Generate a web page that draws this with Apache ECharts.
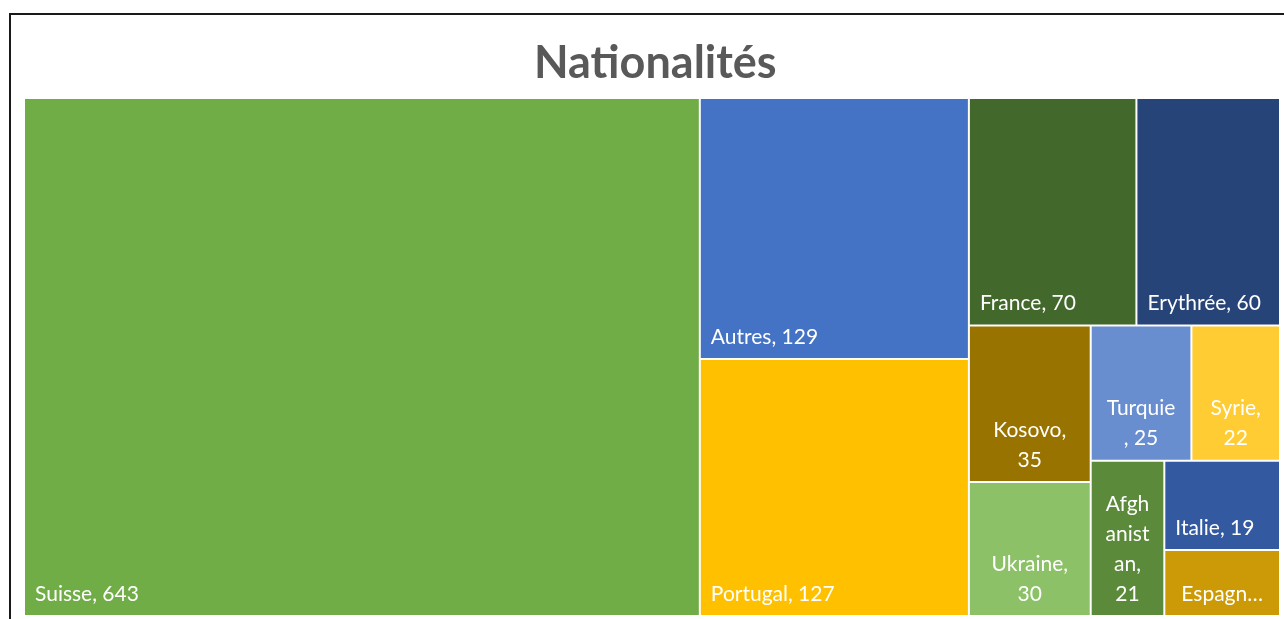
<!DOCTYPE html>
<html>
<head>
<meta charset="utf-8">
<script src="https://cdn.jsdelivr.net/npm/echarts@6/dist/echarts.min.js"></script>
<style>
  html, body { margin: 0; padding: 0; background: #fff; }
  #chart { width: 1284px; height: 619px; }
</style>
</head>
<body>
<div id="chart"></div>
<script>
// données du treemap
const countries = ['Suisse', 'Autres', 'Portugal', 'France', 'Erythrée', 'Kosovo', 'Ukraine', 'Turquie', 'Syrie', 'Afghanistan', 'Italie', 'Espagne']
const counts = [643, 129, 127, 70, 60, 35, 30, 25, 22, 21, 19, 14]
const colors = ['#70ad47', '#4472c4', '#ffc000', '#43682b', '#264478', '#997300', '#8cc168', '#698ed0', '#ffcd33', '#5a8a3a', '#335aa1', '#cc9a06']

// regroupement (indices) pour retrouver la disposition d'Excel
const grouping = [0, [1, 2], [3, 4, [5, 6, [7, 8, [9, [10, 11]]]]]]

// libellés coupés comme dans Excel
const wrappedLabels = {
  Kosovo: '{b},\n{c}',
  Ukraine: '{b},\n{c}',
  Turquie: '{b}\n, {c}',
  Syrie: '{b},\n{c}',
  Afghanistan: 'Afgh\nanist\nan,\n{c}',
  Espagne: 'Espagn…'
}

const chart = echarts.init(document.getElementById('chart'))

function buildNode(g) {
  if (Array.isArray(g)) {
    return {
      name: '',
      itemStyle: { borderWidth: 0, gapWidth: 2, borderColor: '#fff' },
      children: g.map(buildNode)
    }
  }
  const name = countries[g]
  const node = {
    name: name,
    value: counts[g],
    itemStyle: { color: colors[g] }
  }
  if (wrappedLabels[name]) {
    node.label = {
      position: 'insideBottom',
      align: 'center',
      formatter: wrappedLabels[name],
      padding: 0
    }
  }
  return node
}

const data = grouping.map(buildNode)

const options = {
  backgroundColor: '#fff',
  animation: false,
  title: {
    text: 'Nationalités',
    left: 529,
    top: 36,
    textStyle: {
      fontFamily: 'Lato',
      fontWeight: 'bold',
      fontSize: 45,
      color: '#595959'
    }
  },
  graphic: [
    {
      type: 'rect',
      shape: { x: 10, y: 14, width: 1300, height: 640 },
      style: { fill: 'none', stroke: '#1a1a1a', lineWidth: 2 },
      silent: true
    }
  ],
  series: [
    {
      type: 'treemap',
      left: 25,
      top: 99,
      width: 1254,
      height: 516,
      roam: false,
      nodeClick: false,
      breadcrumb: { show: false },
      sort: false,
      squareRatio: 1,
      itemStyle: {
        borderColor: '#fff',
        borderWidth: 0,
        gapWidth: 2
      },
      label: {
        show: true,
        position: 'insideBottomLeft',
        formatter: '{b}, {c}',
        fontFamily: 'Lato',
        fontSize: 21,
        lineHeight: 30,
        color: '#fff',
        distance: 6,
        padding: [0, 0, 0, 4],
        overflow: 'none'
      },
      data: data
    }
  ]
}

chart.setOption(options)

window.addEventListener('resize', () => {
  chart.resize()
})
</script>
</body>
</html>
